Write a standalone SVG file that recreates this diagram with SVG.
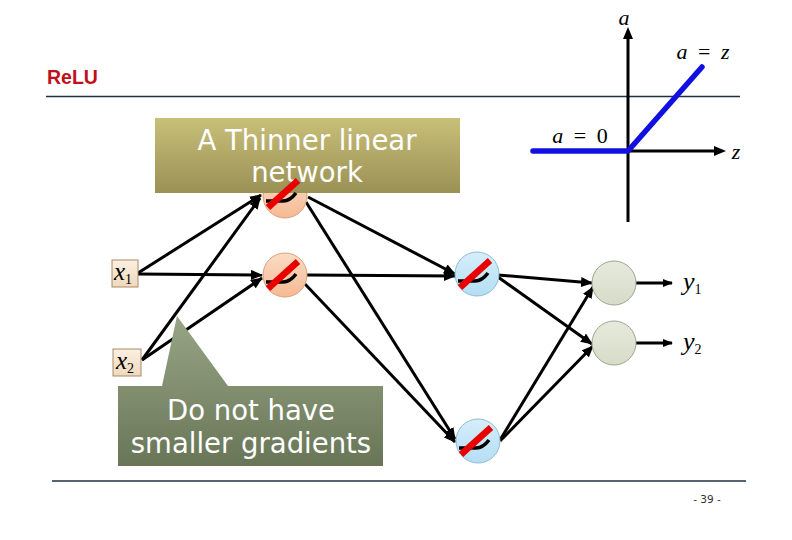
<svg xmlns="http://www.w3.org/2000/svg" xmlns:xlink="http://www.w3.org/1999/xlink" width="792" height="540" viewBox="0 0 792 540">
<style>
.conn{stroke:#000;stroke-width:3;fill:none;marker-end:url(#ah)}
.axis{stroke:#000;stroke-width:3;fill:none}
.math{font-family:"Liberation Serif","DejaVu Serif",serif;fill:#000}
.it{font-style:italic}
.call{font-family:"DejaVu Sans","Verdana",sans-serif;font-size:27.5px;fill:#fff;text-anchor:middle}
.inbox{fill:url(#gIn);stroke:#a88a68;stroke-width:1}
.orange{fill:url(#gOr);stroke:#d8a078;stroke-width:1}
.blue{fill:url(#gBl);stroke:#8fbcd4;stroke-width:1}
.green{fill:url(#gGr);stroke:#9ea58e;stroke-width:1}
</style>
<defs>
<marker id="ah" markerUnits="userSpaceOnUse" markerWidth="12" markerHeight="10" refX="11" refY="5" orient="auto"><path d="M0,0 L12,5 L0,10 z" fill="#000"/></marker>
<marker id="ahs" markerUnits="userSpaceOnUse" markerWidth="10" markerHeight="8" refX="9" refY="4" orient="auto"><path d="M0,0 L10,4 L0,8 z" fill="#000"/></marker>
<linearGradient id="gOr" x1="0" y1="0" x2="0" y2="1"><stop offset="0" stop-color="#fbdcc4"/><stop offset="1" stop-color="#f6b993"/></linearGradient>
<linearGradient id="gBl" x1="0" y1="0" x2="0" y2="1"><stop offset="0" stop-color="#d6eefa"/><stop offset="1" stop-color="#b4def4"/></linearGradient>
<linearGradient id="gGr" x1="0" y1="0" x2="0" y2="1"><stop offset="0" stop-color="#e6eadc"/><stop offset="1" stop-color="#d6dcc8"/></linearGradient>
<linearGradient id="gIn" x1="0" y1="0" x2="0" y2="1"><stop offset="0" stop-color="#fbf0e0"/><stop offset="1" stop-color="#efd9bd"/></linearGradient>
<linearGradient id="gTop" x1="0" y1="0" x2="0" y2="1"><stop offset="0" stop-color="#c8bf79"/><stop offset="1" stop-color="#9a9155"/></linearGradient>
<linearGradient id="gBot" gradientUnits="userSpaceOnUse" x1="0" y1="316" x2="0" y2="466"><stop offset="0" stop-color="#98a585"/><stop offset="1" stop-color="#687657"/></linearGradient>
<g id="relu">
<path d="M-19,7 L-2,7 Q5,7 11,-1" stroke="#000" stroke-width="3.5" fill="none"/>
<path d="M-17,13.5 L13,-13.5" stroke="#e80000" stroke-width="6.5" fill="none"/>
</g>
</defs>
<rect width="792" height="540" fill="#fff"/>

<!-- header -->
<text x="47" y="84" font-family="Liberation Sans,Arial,sans-serif" font-weight="bold" font-size="19.5" fill="#c0101a">ReLU</text>
<line x1="46" y1="96.5" x2="740" y2="96.5" stroke="#1f3040" stroke-width="1.5"/>
<line x1="52" y1="481" x2="746" y2="481" stroke="#1f3040" stroke-width="1.5"/>
<text x="707" y="503" font-family="DejaVu Sans,sans-serif" font-size="10.5" fill="#333" text-anchor="middle">- 39 -</text>

<!-- ReLU plot -->
<g id="plot">
<line class="axis" x1="628" y1="222" x2="628" y2="38"/>
<path d="M628,27 L623,39 L633,39 z" fill="#000"/>
<line class="axis" x1="628" y1="151" x2="716" y2="151"/>
<path d="M726,151 L714,146 L714,156 z" fill="#000"/>
<path d="M533,151 L628,151 L702,67" stroke="#1010e0" stroke-width="5.5" fill="none" stroke-linecap="round" stroke-linejoin="round"/>
<text class="math it" x="624" y="25" font-size="22" text-anchor="middle">a</text>
<text class="math" x="703" y="59" font-size="22" text-anchor="middle" word-spacing="5"><tspan class="it">a</tspan> = <tspan class="it">z</tspan></text>
<text class="math" x="580" y="143" font-size="22" text-anchor="middle" word-spacing="5"><tspan class="it">a</tspan> = 0</text>
<text class="math it" x="736" y="159" font-size="22" text-anchor="middle">z</text>
</g>

<!-- connectors -->
<g id="connectors">
<line class="conn" x1="138" y1="273" x2="261" y2="195"/>
<line class="conn" x1="138" y1="274" x2="262" y2="275"/>
<line class="conn" x1="142" y1="360" x2="260" y2="198"/>
<line class="conn" x1="142" y1="360" x2="262" y2="278"/>
<line class="conn" x1="308" y1="197" x2="455" y2="274"/>
<line class="conn" x1="306" y1="202" x2="455" y2="439"/>
<line class="conn" x1="307" y1="275" x2="455" y2="276"/>
<line class="conn" x1="305" y1="284" x2="455" y2="442"/>
<line class="conn" x1="498" y1="275" x2="592" y2="283"/>
<line class="conn" x1="498" y1="277" x2="592" y2="344"/>
<line class="conn" x1="500" y1="440" x2="593" y2="287"/>
<line class="conn" x1="500" y1="441" x2="593" y2="346"/>
<line x1="636" y1="283" x2="672" y2="283" stroke="#000" stroke-width="3" marker-end="url(#ahs)"/>
<line x1="636" y1="343" x2="672" y2="343" stroke="#000" stroke-width="3" marker-end="url(#ahs)"/>
</g>

<!-- inputs -->
<g id="x1">
<rect class="inbox" x="112" y="260" width="26" height="27"/>
<text class="math" x="114" y="280" font-size="25"><tspan class="it">x</tspan><tspan font-size="14" dy="4">1</tspan></text>
</g>
<g id="x2">
<rect class="inbox" x="113" y="349" width="28" height="27"/>
<text class="math" x="116" y="369" font-size="25"><tspan class="it">x</tspan><tspan font-size="14" dy="4">2</tspan></text>
</g>

<!-- hidden layer 1 -->
<g id="h1a">
<circle class="orange" cx="285" cy="196" r="22"/>
</g>
<g id="h1b">
<circle class="orange" cx="285" cy="275" r="22"/>
<use xlink:href="#relu" x="285" y="275"/>
</g>
<!-- hidden layer 2 -->
<g id="h2a">
<circle class="blue" cx="477" cy="274" r="22"/>
<use xlink:href="#relu" x="477" y="274"/>
</g>
<g id="h2b">
<circle class="blue" cx="478" cy="441" r="22"/>
<use xlink:href="#relu" x="478" y="441"/>
</g>
<!-- outputs -->
<g id="o1">
<circle class="green" cx="614" cy="283" r="22"/>
</g>
<g id="o2">
<circle class="green" cx="614" cy="343" r="22"/>
</g>
<g id="y1"><text class="math" x="683" y="290" font-size="26"><tspan class="it">y</tspan><tspan font-size="14" dy="4">1</tspan></text></g>
<g id="y2"><text class="math" x="683" y="350" font-size="26"><tspan class="it">y</tspan><tspan font-size="14" dy="4">2</tspan></text></g>

<!-- callouts -->
<g id="callout-top">
<rect x="155" y="118" width="305" height="75" fill="url(#gTop)"/>
<text class="call" x="307" y="150">A Thinner linear</text>
<text class="call" x="307" y="182">network</text>
</g>
<g id="h1a-glyph"><use xlink:href="#relu" x="285" y="194"/></g>

<g id="callout-bottom">
<path d="M118,386 L162,386 L177,316 L228,386 L383,386 L383,466 L118,466 z" fill="url(#gBot)"/>
<text class="call" x="251" y="420">Do not have</text>
<text class="call" x="251" y="453">smaller gradients</text>
</g>
</svg>
